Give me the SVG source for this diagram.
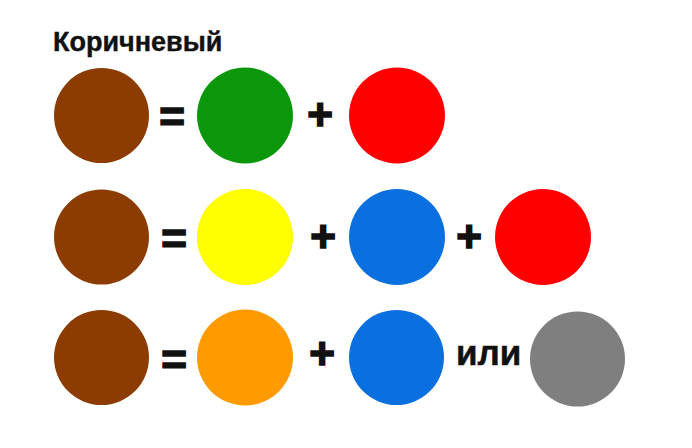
<svg xmlns="http://www.w3.org/2000/svg" width="692" height="448" viewBox="0 0 692 448">
<style>
  text { font-family: "Liberation Sans", Arial, sans-serif; font-weight: bold; fill: #111; }
  .op { font-size: 44px; text-anchor: middle; stroke: #111; stroke-width: 1.6px; }
  .brown { fill: #8c3c00; }
  .green { fill: #0a970a; }
  .red { fill: #ff0000; }
  .yellow { fill: #ffff00; }
  .blue { fill: #0a6fdf; }
  .orange { fill: #ff9a00; }
  .gray { fill: #7f7f7f; }
</style>
<rect width="692" height="448" fill="#ffffff"/>
<g id="title"><text x="53" y="51" font-size="27" stroke="#111" stroke-width="0.4">Коричневый</text></g>

<g id="row1">
  <g id="r1-brown"><circle class="brown" cx="101.5" cy="115.5" r="47.5"/></g>
  <g id="r1-green"><circle class="green" cx="245" cy="115.5" r="48"/></g>
  <g id="r1-red"><circle class="red" cx="397" cy="115.5" r="48"/></g>
</g>
<g id="row2">
  <g id="r2-brown"><circle class="brown" cx="101.5" cy="237" r="47.5"/></g>
  <g id="r2-yellow"><circle class="yellow" cx="245" cy="237" r="48"/></g>
  <g id="r2-blue"><circle class="blue" cx="397" cy="237" r="48"/></g>
  <g id="r2-red"><circle class="red" cx="543" cy="237" r="48"/></g>
</g>
<g id="row3">
  <g id="r3-brown"><circle class="brown" cx="101.5" cy="357.5" r="47.5"/></g>
  <g id="r3-orange"><circle class="orange" cx="245" cy="357.5" r="48"/></g>
  <g id="r3-blue"><circle class="blue" cx="396.5" cy="357.5" r="47.5"/></g>
  <g id="r3-gray"><circle class="gray" cx="577.5" cy="359" r="47.5"/></g>
</g>

<g id="operators">
  <text class="op" x="172" y="132">=</text>
  <text class="op" x="320" y="130">+</text>
  <text class="op" x="174" y="254">=</text>
  <text class="op" x="323" y="252">+</text>
  <text class="op" x="469" y="252">+</text>
  <text class="op" x="174" y="375">=</text>
  <text class="op" x="322" y="369">+</text>
  <text x="456" y="365" font-size="35" stroke="#111" stroke-width="0.5">или</text>
</g>
</svg>
